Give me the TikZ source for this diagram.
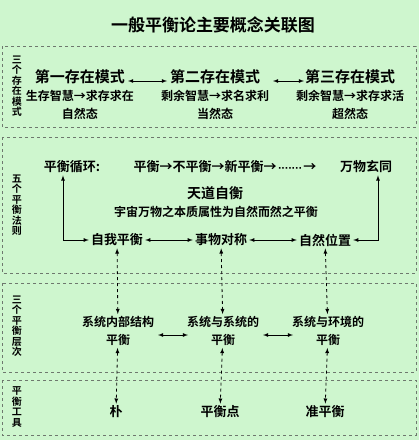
\documentclass[tikz,border=0pt]{standalone}
\usepackage{fontspec}
\setmainfont{Noto Sans CJK SC}[BoldFont={Noto Sans CJK SC Bold}]
\newfontfamily\dotfont{DejaVu Sans}
\usetikzlibrary{arrows,positioning}
\definecolor{bandgreen}{RGB}{206,246,206}
\definecolor{bandline}{RGB}{110,120,110}
\begin{document}
\begin{tikzpicture}[x=1pt,y=-1pt,>=latex,font=\bfseries,
		band/.style={draw=bandline,dashed,line width=.8pt},
		side/.style={font=\bfseries\fontsize{10}{10.5}\selectfont,align=center,inner sep=0pt},
		main/.style={font=\bfseries\fontsize{13}{15}\selectfont,inner sep=2pt,align=center},
		both/.style={<->,line width=.8pt},
		dasharrow/.style={<->,dashed,line width=.8pt}]
		\fill[bandgreen] (0,0) rectangle (419,440);
		\useasboundingbox (0,0) rectangle (419,440);
		
		\node[font=\bfseries\fontsize{17}{18}\selectfont] (title) at (213,25) {一般平衡论主要概念关联图};
		
		\draw[band] (2,46) rectangle (416,127);
		\draw[band] (2,137) rectangle (416,273);
		\draw[band] (2,283) rectangle (416,372);
		\draw[band] (2,380) rectangle (416,435);
		
		\node[side] (s1) at (17,86) {三\\个\\存\\在\\模\\式};
		\node[side] (s2) at (17,205) {五\\个\\平\\衡\\法\\则};
		\node[side] (s3) at (17,326) {三\\个\\平\\衡\\层\\次};
		\node[side] (s4) at (17,407) {平\\衡\\工\\具};
		
		\node[main,font=\bfseries\fontsize{15}{18}\selectfont] (m1) at (80,95) {第一存在模式\\{\fontsize{12}{18}\selectfont 生存智慧→求存求在}\\{\fontsize{12}{18}\selectfont 自然态}};
		\node[main,font=\bfseries\fontsize{15}{18}\selectfont] (m2) at (215,95) {第二存在模式\\{\fontsize{12}{18}\selectfont 剩余智慧→求名求利}\\{\fontsize{12}{18}\selectfont 当然态}};
		\node[main,font=\bfseries\fontsize{15}{18}\selectfont] (m3) at (350,95) {第三存在模式\\{\fontsize{12}{18}\selectfont 剩余智慧→求存求活}\\{\fontsize{12}{18}\selectfont 超然态}};
		\draw[both] (128,81) -- (167,81);
		\draw[both] (273,81) -- (304,81);
		
		\node[main] (xunhuan) at (72,167) {平衡循环:};
		\node[main] (chain) at (225,167) {平衡→不平衡→新平衡→{\dotfont\fontsize{9}{10}\selectfont\,·······\,}→};
		\node[main] (wanwu) at (366,167) {万物玄同};
		\node[main,font=\bfseries\fontsize{14}{15}\selectfont] (tiandao) at (215,193) {天道自衡};
		\node[main,font=\bfseries\fontsize{12}{13}\selectfont] (benzhi) at (216,212) {宇宙万物之本质属性为自然而然之平衡};
		\node[main] (ziwo) at (117,240) {自我平衡};
		\node[main] (duichen) at (221,240) {事物对称};
		\node[main] (weizhi) at (325,240) {自然位置};
		\draw[both] (ziwo) -- (duichen);
		\draw[both] (duichen) -- (weizhi);
		\draw[both] ([xshift=-9pt]xunhuan.south) |- (ziwo.west);
		\draw[both] ([xshift=12pt]wanwu.south) |- (weizhi.east);
		
		\node[main,font=\bfseries\fontsize{12}{18}\selectfont] (neibu) at (118,331) {系统内部结构\\平衡};
		\node[main,font=\bfseries\fontsize{12}{18}\selectfont] (xitong) at (223,331) {系统与系统的\\平衡};
		\node[main,font=\bfseries\fontsize{12}{18}\selectfont] (huanjing) at (328,331) {系统与环境的\\平衡};
		\draw[both] (158,335) -- (188,335);
		\draw[both] (263,335) -- (293,335);
		\draw[dasharrow] (ziwo) -- (neibu);
		\draw[dasharrow] (duichen) -- (xitong);
		\draw[dasharrow] (weizhi) -- (huanjing);
		
		\node[main] (pu) at (116,412) {朴};
		\node[main] (pingheng) at (220,412) {平衡点};
		\node[main] (zhun) at (325,412) {准平衡};
		\draw[dasharrow] (neibu) -- (pu);
		\draw[dasharrow] (xitong) -- (pingheng);
		\draw[dasharrow] (huanjing) -- (zhun);
		\end{tikzpicture}
\end{document}
